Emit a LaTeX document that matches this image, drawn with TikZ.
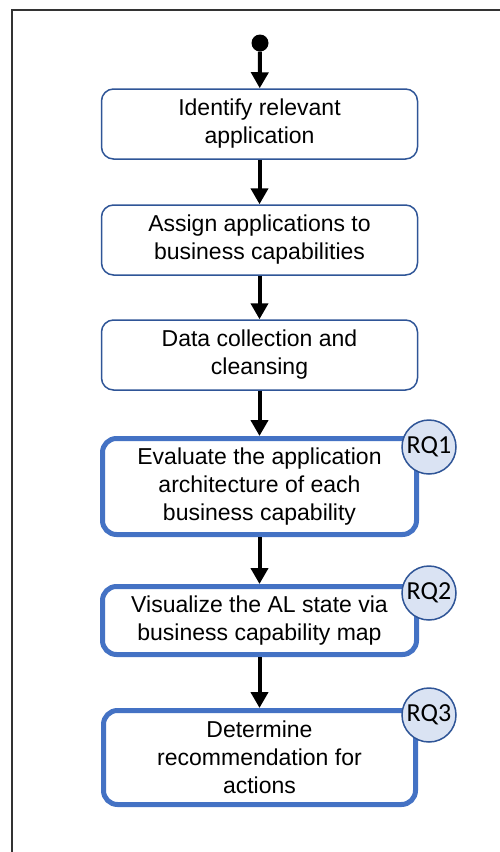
\documentclass[tikz,border=0pt]{standalone}
\usepackage{fontspec}
\setmainfont{Liberation Sans}
\newfontfamily\rqfont{Carlito}
\usetikzlibrary{arrows.meta}
\definecolor{thinblue}{HTML}{2F5597}
\definecolor{thickblue}{HTML}{4472C4}
\definecolor{rqfill}{HTML}{DAE3F3}
\definecolor{framegray}{HTML}{333333}
\begin{document}
\begin{tikzpicture}[x=1pt,y=-1pt,
  thinbox/.style={draw=thinblue,line width=1.5pt,rounded corners=12pt,fill=white,
    minimum width=316pt,minimum height=70pt,align=center,inner sep=0pt,
    font=\fontsize{23}{28}\selectfont},
  thickbox/.style={draw=thickblue,line width=5pt,rounded corners=14pt,fill=white,
    minimum width=314pt,align=center,inner sep=0pt,
    font=\fontsize{23}{28}\selectfont},
  rq/.style={circle,draw=thinblue,line width=1.5pt,fill=rqfill,minimum size=54pt,
    inner sep=0pt,font=\rqfont\fontsize{26}{28}\selectfont},
  flow/.style={line width=4pt,-{Triangle[width=17pt,length=16pt]}},
  startdot/.style={circle,fill=black,minimum size=17pt,inner sep=0pt}]
\useasboundingbox (0,0) rectangle (500,852);
\begin{scope}
\clip (0,0) rectangle (500,852);
\draw[framegray,line width=1.2pt] (12,10) rectangle (520,870);
\end{scope}
\node[startdot] (s) at (260,43) {};
\node[thinbox] (b1) at (259.5,124) {Identify relevant\\application};
\node[thinbox] (b2) at (259.5,240) {Assign applications to\\business capabilities};
\node[thinbox] (b3) at (259.5,355) {Data collection and\\cleansing};
\node[thickbox,minimum height=96pt] (b4) at (259.5,486.5) {Evaluate the application\\architecture of each\\business capability};
\node[thickbox,minimum height=68pt] (b5) at (259.5,620.5) {Visualize the AL state via\\business capability map};
\node[thickbox,minimum height=94pt,minimum width=312pt] (b6) at (259.5,757.5) {Determine\\recommendation for\\actions};
\node[rq] (r1) at (429,447) {RQ1};
\node[rq] (r2) at (429,593) {RQ2};
\node[rq] (r3) at (429,715) {RQ3};
\draw[flow] (s) -- (b1);
\draw[flow] (b1) -- (b2);
\draw[flow] (b2) -- (b3);
\draw[flow] (b3) -- (b4);
\draw[flow] (b4) -- (b5);
\draw[flow] (b5) -- (b6);
\end{tikzpicture}
\end{document}
